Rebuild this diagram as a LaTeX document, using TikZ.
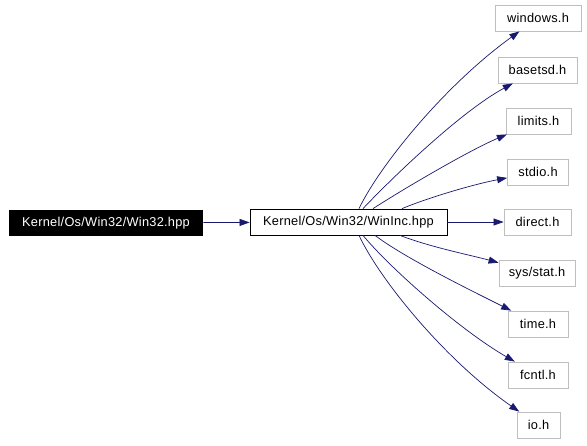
\documentclass[tikz,border=0pt]{standalone}
\usepackage{fontspec}
\setmainfont[LetterSpace=2]{Liberation Sans}
\usetikzlibrary{arrows.meta}
\definecolor{edgeblue}{HTML}{191970}
\definecolor{boxgray}{HTML}{BFBFBF}
\tikzset{
  filebox/.style={draw=boxgray, line width=0.8pt, minimum height=26pt, inner sep=0pt, font=\fontsize{12.8}{14}\selectfont},
  mainbox/.style={draw=black, line width=0.8pt, minimum height=26pt, inner sep=0pt, font=\fontsize{12.8}{14}\selectfont},
  rootbox/.style={fill=black, text=white, minimum height=26pt, inner sep=0pt, font=\fontsize{12.8}{14}\selectfont},
  dep/.style={draw=edgeblue, line width=0.7pt, -{Triangle[length=10pt,width=7pt]}}
}
\begin{document}
\begin{tikzpicture}[x=1pt,y=-1pt]
\useasboundingbox (0,0) rectangle (587,445);
\node[rootbox, minimum width=194pt] (root) at (106,223) {Kernel/Os/Win32/Win32.hpp};
\node[mainbox, minimum width=197pt] (wi) at (348.5,222) {Kernel/Os/Win32/WinInc.hpp};
\node[filebox, minimum width=86pt] (win) at (538,18) {windows.h};
\node[filebox, minimum width=79pt] (bas) at (537.5,70) {basetsd.h};
\node[filebox, minimum width=65pt] (lim) at (538.5,121) {limits.h};
\node[filebox, minimum width=61pt] (sio) at (538,172) {stdio.h};
\node[filebox, minimum width=67pt] (dir) at (537.5,222) {direct.h};
\node[filebox, minimum width=76pt] (sst) at (537,273) {sys/stat.h};
\node[filebox, minimum width=60pt] (tim) at (538,324) {time.h};
\node[filebox, minimum width=60pt] (fcn) at (538,375) {fcntl.h};
\node[filebox, minimum width=43pt] (io) at (538.5,425) {io.h};

\draw[dep] (root) -- (wi);
\draw[dep] ([xshift=10.5pt]wi.north) .. controls (380,165) and (445,85) .. (win);
\draw[dep] ([xshift=14.5pt]wi.north) .. controls (390,180) and (460,112) .. (bas);
\draw[dep] ([xshift=24.5pt]wi.north) .. controls (405,188) and (470,150) .. (lim);
\draw[dep] ([xshift=53.5pt]wi.north) .. controls (430,197) and (475,184) .. (sio);
\draw[dep] (wi) -- (dir);
\draw[dep] ([xshift=51.5pt]wi.south) .. controls (430,247) and (470,255) .. (sst);
\draw[dep] ([xshift=26.5pt]wi.south) .. controls (405,258) and (470,290) .. (tim);
\draw[dep] ([xshift=14.5pt]wi.south) .. controls (390,268) and (460,330) .. (fcn);
\draw[dep] ([xshift=10.5pt]wi.south) .. controls (380,280) and (445,360) .. (io);
\end{tikzpicture}
\end{document}
